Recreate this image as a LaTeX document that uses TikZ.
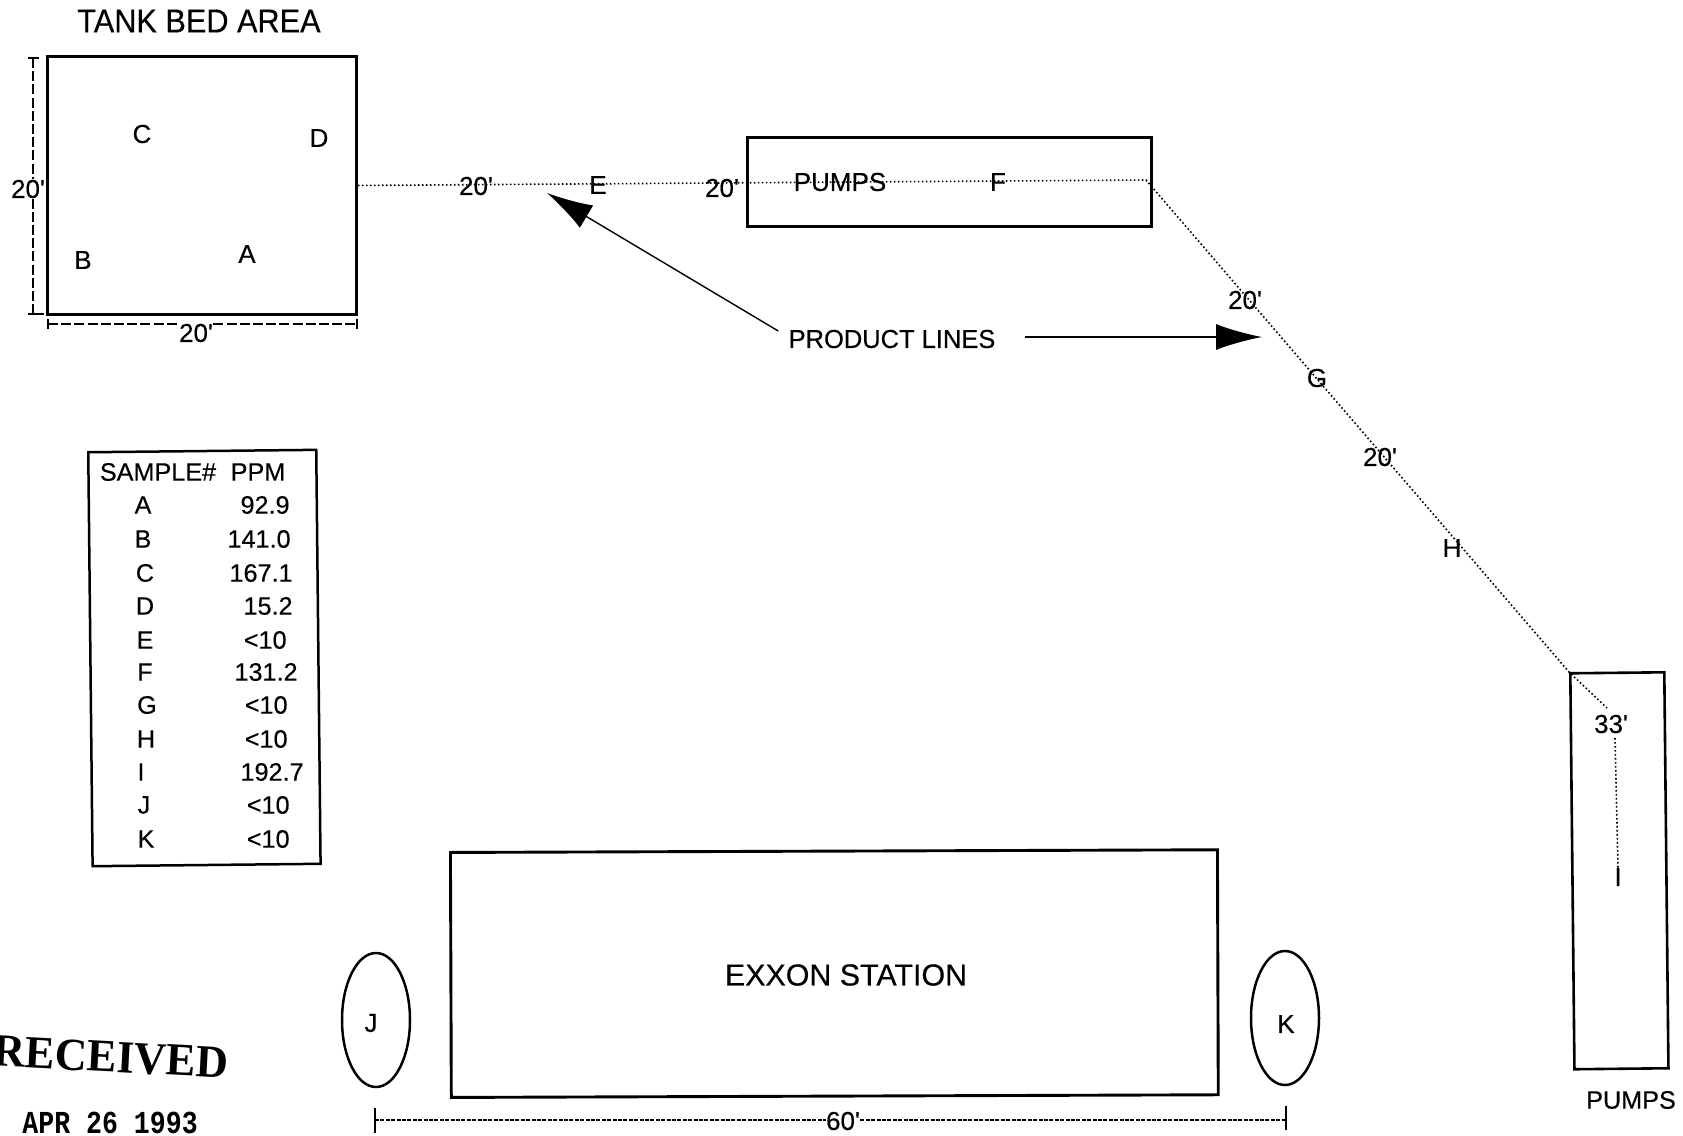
\documentclass[tikz,border=0pt]{standalone}
\usepackage{fontspec}
\newfontfamily\labelfont[FakeBold=0.35]{Liberation Sans}
\newfontfamily\stampfont{Liberation Serif}
\newfontfamily\datefont{Liberation Mono}
\usetikzlibrary{arrows.meta,shapes.geometric}
\tikzset{
  x=0.5pt,y=-0.5pt,
  box/.style={draw,line width=1.45pt,inner sep=0pt,anchor=north west},
  lbl/.style={inner sep=0pt,font=\labelfont\fontsize{13}{15}\selectfont},
  tlbl/.style={inner sep=0pt,font=\labelfont\fontsize{12.6}{15}\selectfont},
  pipe/.style={line width=0.8pt,dash pattern=on 0.8pt off 1.2pt},
  dim/.style={line width=0.7pt,dash pattern=on 5pt off 1.6pt},
  dimfine/.style={line width=0.6pt,dash pattern=on 2pt off 0.7pt},
  endtick/.style={line width=0.7pt},
  pointer/.style={line width=0.7pt,-{Latex[length=23pt,width=13pt]}},
  oval/.style={draw,line width=1.25pt,ellipse,inner sep=0pt}
}
\begin{document}
\begin{tikzpicture}
\useasboundingbox (0,0) rectangle (1683,1136);
% boxes
\node[box,minimum width=154.5pt,minimum height=129pt] (tank) at (46,55) {};
\node[box,minimum width=202pt,minimum height=44.5pt] (pumpsA) at (746,136) {};
\node[box,minimum width=114pt,minimum height=207pt,rotate=0.6,line width=1.25pt] (table) at (87,451) {};
\node[box,minimum width=383.5pt,minimum height=122.5pt,rotate=0.2] (station) at (449,851) {};
\node[box,minimum width=47pt,minimum height=198pt,rotate=0.6,line width=1.3pt] (pumpsB) at (1569,672) {};
\node[oval,minimum width=34pt,minimum height=67pt] (ovalJ) at (376,1020) {};
\node[oval,minimum width=34pt,minimum height=67pt] (ovalK) at (1285,1018) {};
% titles and labels
\node[inner sep=0pt,font=\labelfont\fontsize{16.5}{18}\selectfont] (title) at (199,21) {\scalebox{0.93}[1]{TANK BED AREA}};
\node[lbl] (C) at (142,134) {C};
\node[lbl] (D) at (319,138) {D};
\node[lbl] (B) at (83,260) {B};
\node[lbl] (A) at (247,254) {A};
\node[lbl] (tl) at (28,189) {20'};
\node[lbl] (tb) at (196,333) {20'};
\node[lbl] (d1) at (476,186) {20'};
\node[lbl] (E) at (598,185) {E};
\node[lbl] (d2) at (722,188) {20'};
\node[lbl] (pumpstext) at (840,182) {PUMPS};
\node[lbl] (F) at (998,182) {F};
\node[lbl] (prod) at (892,339) {\scalebox{0.98}[1]{PRODUCT LINES}};
\node[lbl] (d3) at (1245,300) {20'};
\node[lbl] (G) at (1317,378) {G};
\node[lbl] (d4) at (1380,457) {20'};
\node[lbl] (H) at (1452,548) {H};
\node[lbl] (d5) at (1611,724) {33'};
\node[lbl] (I) at (1618,877) {I};
\node[lbl,font=\labelfont\fontsize{15.2}{17}\selectfont] (exxon) at (846,975) {EXXON STATION};
\node[lbl] (J) at (371,1023) {J};
\node[lbl] (K) at (1286,1024) {K};
\node[lbl] (d60) at (843,1121) {60'};
\node[lbl,font=\labelfont\fontsize{12.6}{15}\selectfont] (pumpsC) at (1631,1100) {PUMPS};
% table
\node[tlbl] (h1) at (158,472) {SAMPLE\#};
\node[tlbl] (h2) at (258,472) {PPM};
\foreach \n/\l/\v/\x/\xv/\y in {a/A/92.9/143/290/505,b/B/141.0/143/291/539,c/C/167.1/145/293/573,d/D/15.2/145/293/606,e/E/<10/145/287/640,f/F/131.2/145/298/672,g/G/<10/147/288/705,h/H/<10/146/288/739,i/I/192.7/141/304/772,j/J/<10/144/290/805,k/K/<10/146/290/839}{
  \node[tlbl] (row\n) at (\x,\y) {\l};
  \node[tlbl,anchor=east] (val\n) at (\xv,\y) {\v};
}
% pipe
\coordinate (bendA) at (1146,180);
\coordinate (bendB) at (1607,708);
\coordinate (riser) at (1615,738);
\draw[pipe] (tank.east) -- (bendA) -- (pumpsB.north west) -- (bendB);
\draw[pipe] (riser) -- (I.north);
% dimensions
\coordinate (dlt) at (33,58);
\coordinate (dlb) at (33,314);
\coordinate (dbl) at (48,324);
\coordinate (dbr) at (357,324);
\coordinate (dml) at (375,1120);
\coordinate (dmr) at (1286,1120);
\draw[dim] (dlt) -- (tl.north -| dlt);
\draw[dim] (tl.south -| dlb) -- (dlb);
\draw[dim] (dbl) -- (tb.west |- dbl);
\draw[dim] (tb.east |- dbr) -- (dbr);
\draw[dimfine] (dml) -- (d60.west |- dml);
\draw[dimfine] (d60.east |- dmr) -- (dmr);
\draw[endtick] (28,58) -- (39,58);
\draw[endtick] (28,314) -- (44,314);
\draw[endtick] (48,319) -- (48,329);
\draw[endtick] (357,319) -- (357,329);
\draw[endtick] (375,1108) -- (375,1133);
\draw[endtick] (1286,1106) -- (1286,1130);
% pointers
\coordinate (ptipA) at (547,193);
\coordinate (ptipB) at (1262,337);
\coordinate (pstartB) at (1025,337);
\draw[pointer] (prod.west)++(-10,-8) -- (ptipA);
\draw[pointer] (pstartB) -- (ptipB);
% stamp
\node[inner sep=0pt,anchor=west,rotate=-3,font=\stampfont\bfseries\fontsize{23}{25}\selectfont] (stamp) at (-7,1051) {\scalebox{0.97}[1]{RECEIVED}};
\node[inner sep=0pt,anchor=base west,font=\datefont\bfseries\fontsize{16}{18}\selectfont] (date) at (22,1133) {\scalebox{0.83}[1]{APR 26 1993}};
\end{tikzpicture}
\end{document}
